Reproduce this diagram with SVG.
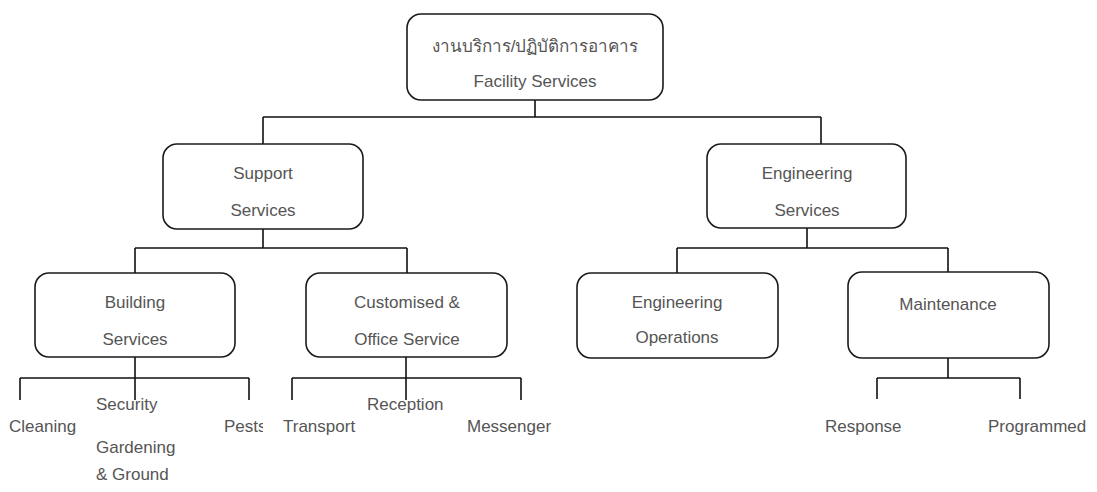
<svg xmlns="http://www.w3.org/2000/svg" width="1097" height="492" viewBox="0 0 1097 492">
<style>
.box{fill:#fff;stroke:#1a1a1a;stroke-width:1.6}
.ln{fill:none;stroke:#111;stroke-width:1.6}
text{font-family:"Liberation Sans",Arial,sans-serif;font-size:17px;fill:#555}
.c{text-anchor:middle}
</style>
<defs>
<clipPath id="pc"><rect x="0" y="380" width="263" height="60"/></clipPath>
</defs>
<rect width="1097" height="492" fill="#fff"/>
<g id="connectors">
<path class="ln" d="M535,100V117M263,117H821M263,117V144M821,117V144"/>
<path class="ln" d="M263,229V248M135,248H407M135,248V273M407,248V273"/>
<path class="ln" d="M807,228V248M677,248H948M677,248V273M948,248V272"/>
<path class="ln" d="M135,357V378M20,378H249M20,378V400M135,378V400M249,378V400"/>
<path class="ln" d="M406,357V378M292,378H521M292,378V400M406,378V400M521,378V400"/>
<path class="ln" d="M948,358V378M877,378H1020M877,378V399M1020,378V399"/>
</g>
<g id="n-facility">
<rect class="box" x="407" y="14" width="256" height="86" rx="14"/>
<text class="c" x="535" y="52" font-family="'Noto Sans Thai','Noto Sans',sans-serif">งานบริการ/ปฏิบัติการอาคาร</text>
<text class="c" x="535" y="87">Facility Services</text>
</g>
<g id="n-support">
<rect class="box" x="163" y="144" width="200" height="85" rx="14"/>
<text class="c" x="263" y="179">Support</text>
<text class="c" x="263" y="216">Services</text>
</g>
<g id="n-engineering">
<rect class="box" x="707" y="144" width="199" height="84" rx="14"/>
<text class="c" x="807" y="179">Engineering</text>
<text class="c" x="807" y="216">Services</text>
</g>
<g id="n-building">
<rect class="box" x="35" y="273" width="200" height="84" rx="14"/>
<text class="c" x="135" y="308">Building</text>
<text class="c" x="135" y="345">Services</text>
</g>
<g id="n-customised">
<rect class="box" x="306" y="273" width="201" height="84" rx="14"/>
<text class="c" x="407" y="308">Customised &amp;</text>
<text class="c" x="407" y="345">Office Service</text>
</g>
<g id="n-engops">
<rect class="box" x="577" y="273" width="201" height="85" rx="14"/>
<text class="c" x="677" y="308">Engineering</text>
<text class="c" x="677" y="343">Operations</text>
</g>
<g id="n-maintenance">
<rect class="box" x="848" y="272" width="201" height="86" rx="14"/>
<text class="c" x="948" y="310">Maintenance</text>
</g>
<g id="n-cleaning"><text x="9" y="432">Cleaning</text></g>
<g id="n-security"><text x="96" y="410">Security</text></g>
<g id="n-gardening"><text x="96" y="453">Gardening</text><text x="96" y="480">&amp; Ground</text></g>
<g id="n-pests"><text x="224" y="432" clip-path="url(#pc)">Pests</text></g>
<g id="n-transport"><text x="283" y="432">Transport</text></g>
<g id="n-reception"><text x="367" y="410">Reception</text></g>
<g id="n-messenger"><text x="467" y="432">Messenger</text></g>
<g id="n-response"><text x="825" y="432">Response</text></g>
<g id="n-programmed"><text x="988" y="432">Programmed</text></g>
</svg>
